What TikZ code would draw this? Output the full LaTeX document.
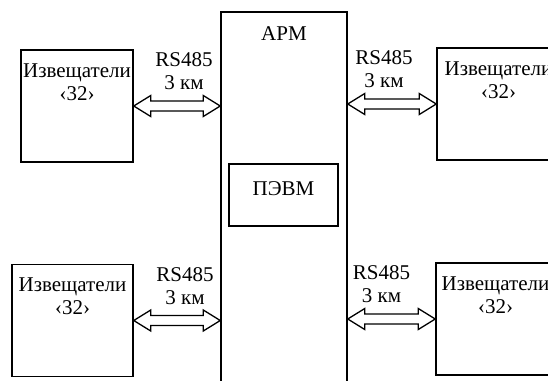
\documentclass[tikz,border=0pt]{standalone}
\usepackage{fontspec}
\setmainfont{Liberation Serif}
\usetikzlibrary{calc,positioning}
\definecolor{ink}{HTML}{000000}
\definecolor{paper}{HTML}{FFFFFF}

% double-headed bus arrow between two points on one level
\newcommand{\busline}[2]{%
  \draw[bus] (#1) -- ++(17,-10.5) -- ++(0,5.5) -- ($(#2)+(-17,-5)$) -- ++(0,-5.5)
    -- (#2) -- ++(-17,10.5) -- ++(0,-5.5) -- ($(#1)+(17,5)$) -- ++(0,5.5) -- cycle;}

\begin{document}
\begin{tikzpicture}[x=1pt,y=-1pt,
    block/.style={draw=ink,line width=1.5pt,inner sep=0pt},
    txt/.style={inner sep=0pt,align=center,font=\fontsize{21}{23}\selectfont,text=ink},
    bus/.style={draw=ink,fill=paper,line width=1.3pt,line join=miter}]
  \useasboundingbox (0,0) rectangle (548,380);
  \clip (0,0) rectangle (548,380);
  % workstation
  \node[block,minimum width=126pt,minimum height=390pt] (apm) at (284,207) {};
  \node[txt,below=15pt of apm.north] (apmt) {АРМ};
  \node[block,minimum width=109pt,minimum height=62pt] (pc) at (283.5,195) {};
  \node[txt] (pct) at (283.5,189) {ПЭВМ};
  % sensor groups
  \foreach \n/\x/\y/\w in {s1/77/106/112, s2/498.5/104/123, s3/72.5/320.5/121, s4/495.5/319/119}{
    \node[block,minimum width=\w pt,minimum height=112pt] (\n) at (\x,\y) {};
    \node[txt,below=14pt of \n.north] (\n t) {Извещатели\\‹32›};
  }
  % RS485 links
  \foreach \n/\a/\b/\dx in {s1/{s1.east}/{s1.east -| apm.west}/7,
                            s3/{s3.east}/{s3.east -| apm.west}/8,
                            s2/{s2.west -| apm.east}/{s2.west}/-8,
                            s4/{s4.west -| apm.east}/{s4.west}/-10}{
    \busline{\a}{\b}
    \coordinate (m\n) at ($(\a)!0.5!(\b)$);
    \node[txt,above=16pt of m\n,xshift=\dx pt] (l\n) {RS485\\3 км};
  }
\end{tikzpicture}
\end{document}
